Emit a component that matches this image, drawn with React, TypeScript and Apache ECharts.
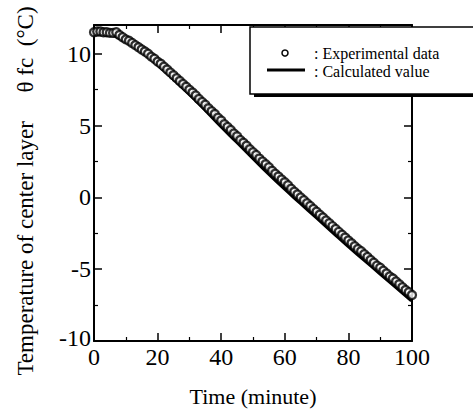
import React, { useEffect, useRef } from "react";
import * as echarts from "echarts";

// Calculated value (line), every 5 minutes
const calcTime = [0, 5, 10, 15, 20, 25, 30, 35, 40, 45, 50, 55, 60, 65, 70, 75, 80, 85, 90, 95, 100];
const calcTemp = [11.4, 11.35, 10.9, 10.2, 9.3, 8.3, 7.25, 6.15, 5.0, 3.9, 2.8, 1.7, 0.65, -0.35, -1.35, -2.35, -3.35, -4.3, -5.25, -6.2, -7.15];

// Experimental data, every minute
const expTemp = [
  11.5, 11.55, 11.55, 11.5, 11.5, 11.45, 11.45, 11.5, 11.3, 11.15,
  11.0, 10.9, 10.75, 10.6, 10.45, 10.3, 10.15, 10.0, 9.8, 9.65,
  9.45, 9.3, 9.1, 8.9, 8.7, 8.5, 8.3, 8.1, 7.9, 7.7,
  7.5, 7.3, 7.1, 6.85, 6.65, 6.45, 6.2, 6.0, 5.8, 5.55,
  5.35, 5.1, 4.9, 4.7, 4.45, 4.25, 4.0, 3.8, 3.6, 3.35,
  3.15, 2.95, 2.7, 2.5, 2.3, 2.1, 1.85, 1.65, 1.45, 1.25,
  1.05, 0.85, 0.6, 0.4, 0.2, 0.0, -0.2, -0.4, -0.6, -0.8,
  -1.0, -1.2, -1.4, -1.6, -1.8, -2.0, -2.2, -2.4, -2.6, -2.8,
  -3.0, -3.2, -3.4, -3.6, -3.75, -3.95, -4.15, -4.35, -4.55, -4.75,
  -4.9, -5.1, -5.3, -5.5, -5.65, -5.85, -6.05, -6.25, -6.45, -6.6,
  -6.8,
];

const xTicks = { min: 0, max: 100, interval: 20 };
const yTicks = { min: -10, max: 12, interval: 5 };

const FONT = "Liberation Serif";

export default function App() {
  const ref = useRef<HTMLDivElement>(null);
  useEffect(() => {
    if (!ref.current) return;
    const chart = echarts.init(ref.current, null, { renderer: "svg" });
    const axisCommon = {
      axisLine: { show: true, onZero: false, lineStyle: { color: "#000", width: 2 } },
      axisTick: { show: true, inside: true, length: 8, lineStyle: { color: "#000", width: 1.5 } },
      minorTick: { show: true, splitNumber: 2, length: 4, lineStyle: { color: "#000", width: 1.2 } },
      splitLine: { show: false },
      minorSplitLine: { show: false },
    };
    const labelStyle = { color: "#000", fontFamily: FONT, fontSize: 24 };
    chart.setOption({
      animation: false,
      backgroundColor: "#fff",
      grid: { left: 94, right: 61, top: 25, bottom: 70 },
      xAxis: [
        {
          type: "value",
          position: "bottom",
          ...xTicks,
          ...axisCommon,
          axisLabel: { ...labelStyle, margin: 7, lineHeight: 18 },
          name: "Time (minute)",
          nameLocation: "middle",
          nameGap: 44,
          nameTextStyle: { color: "#000", fontFamily: FONT, fontSize: 22 },
        },
        {
          type: "value",
          position: "top",
          ...xTicks,
          ...axisCommon,
          axisLabel: { show: false },
        },
      ],
      yAxis: [
        {
          type: "value",
          position: "left",
          ...yTicks,
          ...axisCommon,
          axisLabel: {
            ...labelStyle,
            margin: 3,
            lineHeight: 14,
            formatter: (v: number) =>
              v === yTicks.min ? `{low|${v}}` : v % 5 === 0 ? String(v) : "",
            rich: {
              low: { ...labelStyle, lineHeight: 14, padding: [0, 0, 6, 0] },
            },
          },
        },
        {
          type: "value",
          position: "right",
          ...yTicks,
          ...axisCommon,
          axisLabel: { show: false },
        },
      ],
      series: [
        {
          name: "Calculated value",
          type: "line",
          smooth: true,
          showSymbol: false,
          lineStyle: { color: "#000", width: 5 },
          data: calcTime.map((t, i) => [t, calcTemp[i]]),
          z: 2,
        },
        {
          name: "Experimental data",
          type: "scatter",
          symbol: "circle",
          symbolSize: 8,
          itemStyle: { color: "#fff", borderColor: "#000", borderWidth: 2.3 },
          data: expTemp.map((v, i) => [i, v]),
          z: 3,
        },
      ],
      graphic: [
        {
          type: "text",
          x: 25,
          y: 191,
          rotation: Math.PI / 2,
          style: {
            text: "Temperature of center layer     θ fc  (°C)",
            fill: "#000",
            font: `23px "${FONT}"`,
            textAlign: "center",
            textVerticalAlign: "middle",
          },
        },
        // legend shadow
        {
          type: "rect",
          shape: { x: 254, y: 31, width: 240, height: 66 },
          style: { fill: "#000" },
          z: 10,
        },
        {
          type: "rect",
          shape: { x: 250, y: 27, width: 240, height: 67 },
          style: { fill: "#fff", stroke: "#000", lineWidth: 1.5 },
          z: 11,
        },
        {
          type: "circle",
          shape: { cx: 285, cy: 53, r: 3 },
          style: { fill: "#fff", stroke: "#000", lineWidth: 1.5 },
          z: 12,
        },
        {
          type: "line",
          shape: { x1: 267, y1: 70, x2: 305, y2: 70 },
          style: { stroke: "#000", lineWidth: 3 },
          z: 12,
        },
        {
          type: "text",
          x: 314,
          y: 53,
          style: {
            text: ": Experimental data",
            fill: "#000",
            font: `16px "${FONT}"`,
            textVerticalAlign: "middle",
          },
          z: 12,
        },
        {
          type: "text",
          x: 314,
          y: 71,
          style: {
            text: ": Calculated value",
            fill: "#000",
            font: `16px "${FONT}"`,
            textVerticalAlign: "middle",
          },
          z: 12,
        },
      ],
    });
    return () => chart.dispose();
  }, []);
  return (
    <div
      ref={ref}
      style={{ position: "fixed", left: 0, top: 0, width: 473, height: 412, background: "#fff" }}
    />
  );
}
